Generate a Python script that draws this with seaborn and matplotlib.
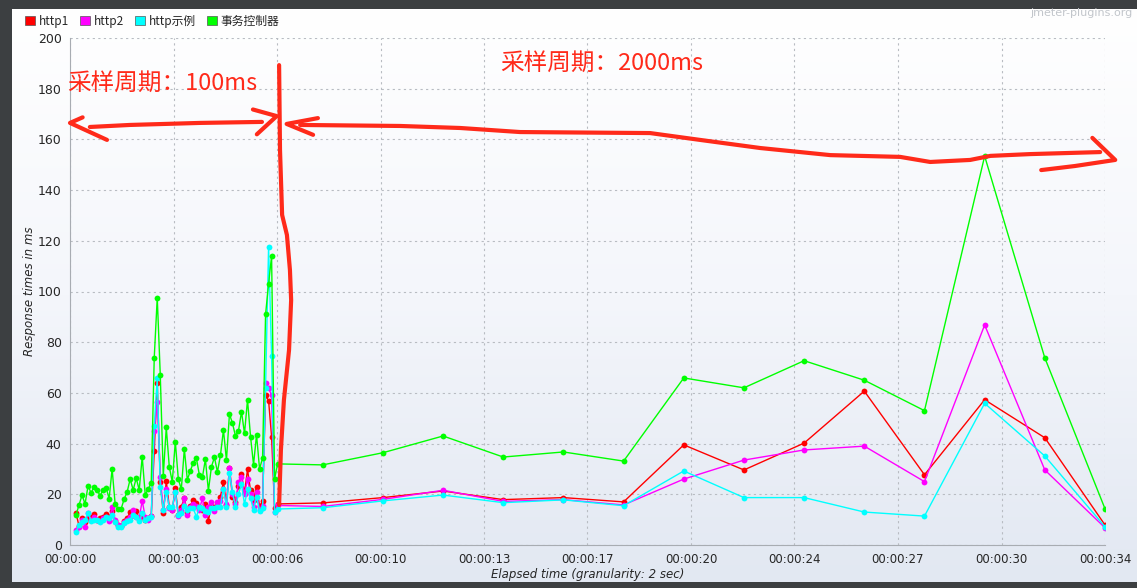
import numpy as np
import pandas as pd
import matplotlib
matplotlib.use("Agg")
import matplotlib.pyplot as plt
import seaborn as sns
from matplotlib.patches import Patch
from matplotlib.colors import LinearSegmentedColormap

# ---- data (response times in ms) ----
series_names = ["http1", "http2", "http示例", "事务控制器"]
series_colors = ["#ff0000", "#ff00ff", "#00ffff", "#00ff00"]

# first part: 100 ms granularity
early_start, early_step = 0.2, 0.1
red_early = [12.5, 7.5, 10.5, 9.0, 10.5, 11.0, 12.2, 10.0, 10.5, 11.0,
             12.2, 11.0, 13.5, 9.5, 8.0, 7.5, 9.5, 10.5, 13.0, 12.0,
             13.5, 10.5, 11.5, 10.0, 10.5, 11.5, 37.0, 64.0, 25.0, 12.5,
             25.2, 15.0, 14.0, 22.5, 12.0, 15.1, 18.4, 12.9, 15.5, 17.8,
             16.7, 15.1, 14.0, 16.0, 9.6, 15.5, 15.0, 15.5, 19.1, 25.0,
             15.8, 30.3, 19.1, 17.0, 23.4, 28.0, 20.4, 29.8, 21.5, 17.8,
             23.0, 15.3, 17.2, 59.0, 57.0, 42.7, 14.5]
mag_early = [6.0, 7.0, 10.0, 7.2, 12.8, 10.0, 11.0, 10.0, 9.5, 10.5,
             11.0, 9.5, 15.0, 10.0, 8.0, 7.5, 9.0, 10.0, 11.0, 14.0,
             11.0, 10.5, 17.5, 11.0, 10.0, 11.5, 45.0, 56.5, 27.0, 14.0,
             22.0, 14.5, 14.0, 21.0, 11.5, 14.0, 18.4, 12.0, 15.0, 16.0,
             15.5, 14.0, 18.4, 12.0, 15.0, 17.0, 13.5, 17.0, 17.5, 22.0,
             16.0, 30.5, 20.0, 16.0, 25.0, 27.0, 20.0, 26.0, 20.0, 15.0,
             21.0, 14.0, 15.5, 64.0, 62.0, 59.0, 13.0]
cyan_early = [5.0, 8.0, 9.0, 10.0, 12.8, 9.5, 10.0, 10.0, 9.0, 10.0,
              11.0, 10.5, 12.0, 9.0, 7.0, 7.0, 8.5, 9.5, 10.0, 12.0,
              11.0, 9.5, 12.5, 10.0, 10.5, 11.0, 47.0, 66.0, 22.7, 14.0,
              21.0, 15.0, 15.0, 21.0, 12.0, 12.5, 15.5, 14.0, 14.5, 14.5,
              11.0, 15.0, 14.5, 13.5, 13.0, 14.5, 14.5, 15.0, 15.0, 22.0,
              15.0, 28.5, 21.0, 15.0, 20.0, 24.0, 16.0, 22.0, 18.5, 13.8,
              19.0, 13.5, 14.5, 62.0, 117.7, 74.5, 13.0]
green_early = [11.8, 15.8, 19.7, 16.2, 23.3, 20.6, 22.9, 21.7, 19.5, 21.7,
               22.6, 18.3, 30.0, 16.2, 14.3, 14.3, 18.1, 21.0, 26.0, 21.7,
               26.4, 21.7, 34.8, 19.9, 21.9, 24.6, 73.9, 97.6, 67.2, 27.3,
               46.4, 30.8, 24.9, 40.8, 26.0, 22.0, 37.9, 25.7, 29.3, 32.5,
               34.3, 27.6, 26.7, 33.8, 21.4, 30.8, 34.6, 28.8, 35.4, 45.4,
               33.4, 51.7, 48.0, 43.0, 45.0, 52.6, 44.0, 57.3, 42.8, 31.7,
               43.5, 30.0, 34.3, 91.0, 103.0, 114.0, 26.0]

# second part: 2000 ms granularity
t_late = [6.9, 8.4, 10.4, 12.4, 14.4, 16.4, 18.4, 20.4, 22.4, 24.4, 26.4, 28.4, 30.4, 32.4, 34.4]
red_late = [16.2, 16.6, 18.7, 21.3, 17.9, 18.7, 17.0, 39.5, 29.6, 40.2, 60.7, 27.7, 57.3, 42.3, 7.9]
mag_late = [15.6, 15.2, 18.0, 21.6, 17.2, 17.9, 15.8, 26.0, 33.5, 37.5, 39.0, 25.0, 86.8, 29.6, 6.8]
cyan_late = [14.2, 14.7, 17.4, 19.7, 16.7, 17.8, 15.5, 29.2, 18.7, 18.7, 13.0, 11.4, 55.9, 35.1, 7.2]
green_late = [32.0, 31.6, 36.4, 43.0, 34.7, 36.7, 33.1, 65.9, 62.0, 72.7, 65.0, 53.0, 153.4, 73.8, 14.3]

x_ticks_labels = ["00:00:00", "00:00:03", "00:00:06", "00:00:10", "00:00:13", "00:00:17",
                  "00:00:20", "00:00:24", "00:00:27", "00:00:30", "00:00:34"]
x_max = 34.4

# hand drawn red marks on the screenshot (seconds, ms)
note_vline_t = [6.95, 6.98, 7.05, 7.21, 7.31, 7.35, 7.28, 7.11, 7.01, 6.95]
note_vline_v = [189.3, 155.8, 130.2, 122.3, 108.5, 96.6, 76.9, 57.2, 37.5, 15.8]
note_left_t = [0.66, 1.99, 4.32, 6.38]
note_left_v = [164.9, 165.7, 166.5, 166.9]
note_left_head1_t = [0.42, 0.0, 1.23]
note_left_head1_v = [168.7, 166.5, 159.8]
note_left_head2_t = [6.08, 6.87, 6.21]
note_left_head2_v = [171.8, 169.2, 162.0]
note_right_head1_t = [8.24, 7.2, 8.08]
note_right_head1_v = [168.4, 166.1, 161.8]
note_right_t = [7.65, 10.97, 12.97, 14.96, 19.28, 20.94, 22.94, 25.27, 27.59, 28.59, 29.92, 30.59, 31.91, 34.24]
note_right_v = [165.7, 165.3, 164.5, 162.9, 162.5, 159.8, 156.6, 153.8, 153.1, 151.1, 151.9, 153.5, 154.2, 155.0]
note_right_head2_t = [33.98, 34.74, 33.4, 32.28]
note_right_head2_v = [160.6, 151.9, 149.5, 147.9]

# ---- build long table ----
t_early = np.round(early_start + early_step * np.arange(len(red_early)), 2)
frames = []
for name, e, l in zip(series_names,
                      [red_early, mag_early, cyan_early, green_early],
                      [red_late, mag_late, cyan_late, green_late]):
    frames.append(pd.DataFrame({"t": list(t_early) + t_late, "ms": e + l, "series": name}))
df = pd.concat(frames, ignore_index=True)

# ---- figure ----
sns.set_style("white")
plt.rcParams["font.family"] = ["DejaVu Sans", "Noto Sans CJK SC"]

W, H = 1137, 588
fig = plt.figure(figsize=(W / 100, H / 100), dpi=100)
fig.patch.set_facecolor("#3c3f41")

# panel gradient background
bg = fig.add_axes([12 / W, 6 / H, 1 - 12 / W, 1 - 15 / H])
grad = np.linspace(0, 1, 256).reshape(-1, 1)
cm = LinearSegmentedColormap.from_list("bg", ["#ffffff", "#f4f6fb", "#e2e8f2"])
bg.imshow(grad, aspect="auto", cmap=cm, extent=[0, 1, 0, 1])
bg.set_axis_off()

ax = fig.add_axes([70 / W, 1 - 545 / H, (1105 - 70) / W, (545 - 38) / H])
ax.set_facecolor("none")

sns.lineplot(data=df, x="t", y="ms", hue="series", hue_order=series_names,
             palette=series_colors, marker="o", markersize=4.2, markeredgewidth=0,
             linewidth=1.0, estimator=None, sort=False, legend=False, ax=ax)

ax.set_xlim(0, x_max)
ax.set_ylim(0, 200)
ax.set_xticks(np.linspace(0, x_max, len(x_ticks_labels)))
ax.set_xticklabels(x_ticks_labels, fontsize=8.5)
ax.set_yticks(np.arange(0, 201, 20))
ax.tick_params(axis="y", labelsize=9, length=4, color="#a0a4a8", pad=2)
ax.tick_params(axis="x", length=4, color="#a0a4a8", pad=2)
ax.grid(True, linestyle=(0, (2, 3)), color="#b8bcc2", linewidth=0.8)
for s in ["top", "right"]:
    ax.spines[s].set_visible(False)
for s in ["left", "bottom"]:
    ax.spines[s].set_color("#a8acb2")
ax.set_xlabel("Elapsed time (granularity: 2 sec)", fontsize=8.5, style="italic", labelpad=1)
ax.set_ylabel("Response times in ms", fontsize=8.5, style="italic", labelpad=1)

# hand drawn annotations
mark = dict(color="#ff2a1a", lw=3, solid_capstyle="round", solid_joinstyle="round", clip_on=False, zorder=5)
for tt, vv in [(note_vline_t, note_vline_v), (note_left_t, note_left_v),
               (note_left_head1_t, note_left_head1_v), (note_left_head2_t, note_left_head2_v),
               (note_right_head1_t, note_right_head1_v), (note_right_t, note_right_v),
               (note_right_head2_t, note_right_head2_v)]:
    ax.plot(tt, vv, **mark)

cjk = ["Noto Sans CJK SC", "DejaVu Sans"]
ax.text(-0.1, 182, "采样周期：100ms", color="#ff2a1a", fontsize=17, family=cjk,
        va="center", ha="left")
ax.text(14.3, 190, "采样周期：2000ms", color="#ff2a1a", fontsize=17, family=cjk,
        va="center", ha="left")

# legend
handles = [Patch(facecolor=c, edgecolor="#555555", linewidth=0.5) for c in series_colors]
fig.legend(handles, series_names, loc="upper left", bbox_to_anchor=(14 / W, 1 - 4 / H),
           ncol=4, frameon=False, handlelength=0.9, handleheight=0.9,
           handletextpad=0.3, columnspacing=0.9, prop={"family": cjk, "size": 8.5})

fig.text(1132 / W, 1 - 13 / H, "jmeter-plugins.org", color="#c2c6cb", fontsize=8,
         ha="right", va="center")

fig.savefig("out.png", dpi=100, facecolor=fig.get_facecolor())
